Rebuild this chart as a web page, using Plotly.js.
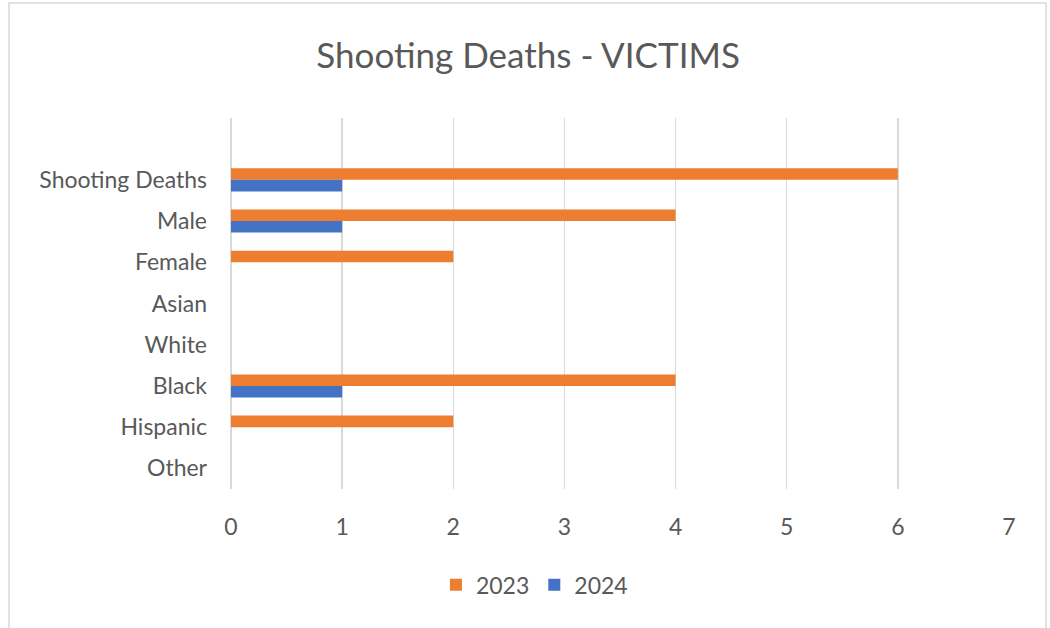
<!DOCTYPE html>
<html>
<head>
<meta charset="utf-8">
<script src="https://cdn.plot.ly/plotly-3.0.1.min.js"></script>
<style>html,body{margin:0;padding:0;background:#fff;}#chart{width:1050px;height:628px;}</style>
</head>
<body>
<div id="chart"></div>
<script>
const categories = ["Shooting Deaths", "Male", "Female", "Asian", "White", "Black", "Hispanic", "Other"];
const values2023 = [6, 4, 2, 0, 0, 4, 2, 0];
const values2024 = [1, 1, 0, 0, 0, 1, 0, 0];
const xTicks = [0, 1, 2, 3, 4, 5, 6, 7];

const font = "Lato, 'Open Sans', sans-serif";
const traces = [
  {type: "bar", orientation: "h", name: "2023", y: categories, x: values2023,
   marker: {color: "#ED7D31"}, hoverinfo: "x+y"},
  {type: "bar", orientation: "h", name: "2024", y: categories, x: values2024,
   marker: {color: "#4472C4"}, hoverinfo: "x+y"}
];
const layout = {
  width: 1050, height: 628,
  paper_bgcolor: "#fff", plot_bgcolor: "#fff",
  margin: {l: 231, r: 41, t: 118, b: 139},
  font: {family: font, color: "#595959", size: 23},
  title: {text: "Shooting Deaths - VICTIMS", x: 0.503, xanchor: "center", y: 0.912, yanchor: "middle",
          font: {family: font, size: 35, color: "#595959"}},
  barmode: "group", bargap: 0.44, bargroupgap: 0,
  showlegend: true,
  legend: {orientation: "h", x: 0.39, xanchor: "center", y: -0.258, yanchor: "middle",
           font: {size: 23, color: "#595959"}, traceorder: "normal", itemwidth: 30},
  xaxis: {range: [0, 7], tickvals: xTicks, showgrid: true, gridcolor: "#d9d9d9", gridwidth: 1.5,
          zeroline: true, zerolinecolor: "#d9d9d9", zerolinewidth: 1.5, showline: false,
          ticks: "", ticklabelstandoff: 22, fixedrange: true},
  yaxis: {type: "category", categoryorder: "array", categoryarray: categories, range: [7.5, -1.5],
          showgrid: false, zeroline: false, showline: false, ticks: "", ticklabelstandoff: 23, fixedrange: true},
  shapes: [{type: "rect", xref: "paper", yref: "paper", x0: -0.2853, x1: 1.0476, y0: -0.4, y1: 1.31,
            line: {color: "#d9d9d9", width: 1.5}, fillcolor: "rgba(0,0,0,0)", layer: "below"}]
};
Plotly.newPlot("chart", traces, layout, {displayModeBar: false, staticPlot: true});
</script>
</body>
</html>
